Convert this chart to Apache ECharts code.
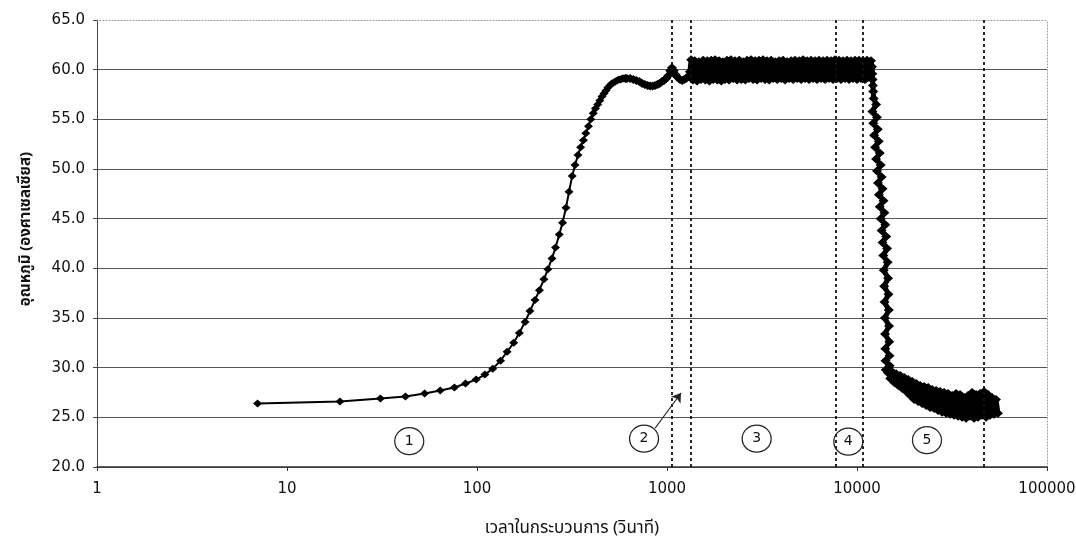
<!DOCTYPE html>
<html><head><meta charset="utf-8">
<script src="https://cdn.jsdelivr.net/npm/echarts@6/dist/echarts.min.js"></script>
<style>html,body{margin:0;padding:0;background:#fff}#c{width:1076px;height:542px}</style>
</head><body><div id="c"></div>
<script>
const xTitle = 'เวลาในกระบวนการ (วินาที)';
const yTitle = 'อุณหภูมิ (องศาเซลเซียส)';
const xTickValues = [1, 10, 100, 1000, 10000, 100000];
const yTickValues = [20, 25, 30, 35, 40, 45, 50, 55, 60, 65];

// heating phase (discrete samples)
const timeRise = [7,19,31,42,53,64,76,87,99,110,121,133,144,156,167,179,190,202,213,225,236,248,259,271,282,294,305,317,328,340,351,363,374,386,397,409,420,432,443,455,466,478,489,501,512,524,535,547,558,570,581,593,604];
const tempRise = [26.4,26.6,26.9,27.1,27.4,27.7,28.0,28.4,28.8,29.3,29.9,30.7,31.6,32.5,33.5,34.6,35.7,36.8,37.8,38.9,39.9,41.0,42.1,43.4,44.6,46.1,47.7,49.3,50.4,51.4,52.2,52.9,53.6,54.3,55.0,55.6,56.1,56.5,56.9,57.3,57.6,57.9,58.2,58.4,58.6,58.7,58.8,58.9,59.0,59.0,59.1,59.1,59.1];

// approach to set point (dense samples)
const timeSettle = [616,640,665,690,715,740,765,790,815,840,865,890,915,940,965,990,1015,1040,1062,1085,1110,1140,1170,1200,1230,1260,1290,1320];
const tempSettle = [59.1,59.1,59.0,58.9,58.8,58.6,58.5,58.4,58.35,58.35,58.4,58.5,58.6,58.8,58.9,59.1,59.4,59.9,60.2,59.9,59.5,59.2,59.0,58.9,59.0,59.1,59.3,59.8];

// holding phase (oscillating around 60)
const timeHold = [1340,1370,1400,1440,1470,1510,1550,1590,1630,1670,1710,1750,1790,1840,1880,1930,1970,2020,2070,2120,2170,2230,2280,2340,2400,2460,2520,2580,2640,2700,2770,2840,2910,2980,3050,3130,3200,3280,3360,3450,3530,3620,3710,3800,3890,3990,4080,4180,4290,4390,4500,4610,4720,4840,4960,5080,5200,5330,5460,5590,5730,5870,6020,6160,6310,6470,6630,6790,6960,7130,7300,7480,7660,7850,8040,8240,8440,8650,8860,9080,9300,9530,9760,10000,10250,10500,10750,11020,11290,11560,11850];
const tempHold = [61.0,58.95,60.9,58.85,60.8,59.0,60.95,58.95,60.9,58.85,
 60.95,59.0,61.0,58.95,60.9,58.85,60.8,59.0,60.95,58.95,
 61.0,59.1,60.9,58.95,60.95,59.0,60.8,58.95,60.95,59.1,
 61.0,59.0,60.9,58.95,60.95,59.1,61.0,59.0,60.9,58.95,
 60.95,59.1,60.8,59.0,60.9,59.1,60.95,58.95,60.8,59.1,
 60.9,59.0,60.95,59.1,60.9,59.0,61.0,59.1,60.9,59.0,
 60.95,59.1,60.9,59.0,60.95,59.1,60.9,59.0,60.95,59.1,
 60.9,59.0,61.0,59.1,60.95,59.0,60.9,59.1,60.95,59.0,
 60.9,59.1,60.95,59.0,60.95,59.1,60.9,59.0,60.95,59.2,
 60.9];

// cooling drop
const timeDrop = [12000,12040,12080,12130,12180,12240,12610,12050,12730,12180,12860,12300,13020,12450,13170,12600,13330,12740,13480,12890,13630,13040,13790,13180,13940,13330,14090,13470,14250,13620,14400,13750,14500,13830,14580,13900,14650,13960,14700,14010,14750,14050,14790,14090,14830,14130,14870,14170,14550];
const tempDrop = [60.3,59.6,59.0,58.4,57.8,57.1,56.5,55.8,55.2,54.6,54.0,53.4,52.8,52.2,51.6,51.0,50.4,49.8,49.2,48.6,48.0,47.4,46.8,46.2,45.6,45.0,44.4,43.8,43.2,42.6,42.0,41.3,40.6,39.8,39.0,38.2,37.4,36.6,35.8,35.0,34.2,33.4,32.6,31.9,31.2,30.7,30.2,29.8,29.5];

// cooled tail
const timeTail = [14600,14960,15320,15700,16080,16480,16880,17300,17720,18150,18600,19050,19520,20000,20490,20990,21500,22030,22570,23120,23690,24270,24860,25470,26090,26730,27390,28060,28740,29450,30170,30910,31660,32440,33230,34050,34880,35730,36610,37500,38420,39360,40330,41310,42330,43360,44420,45510,46630,47770,48940,50130,51360,52620,53900,55200];
const tempTail = [29.8,28.9,29.6,28.5,29.4,28.2,29.2,27.9,29.0,27.6,28.8,27.2,28.6,26.8,28.4,26.6,28.2,26.4,28.1,26.2,28.0,26.0,27.8,25.9,27.7,25.7,27.6,25.5,27.5,25.4,27.4,25.3,27.2,25.2,27.4,25.1,27.3,25.0,27.0,24.9,27.2,25.1,27.5,24.9,27.3,25.0,27.4,25.2,27.6,25.0,27.3,25.2,27.0,25.3,26.8,25.4];

const phaseBounds = [1062, 1330, 7710, 10660, 46600];
const phaseLabels = ['1', '2', '3', '4', '5'];
const phaseLabelTime = [44, 757, 2965, 9000, 23350];
const phaseLabelTemp = [22.6, 22.85, 22.85, 22.55, 22.7];
const arrowFrom = [865, 23.9];
const arrowTo = [1185, 27.45];

const sparseData = timeRise.map((t, i) => [t, tempRise[i]]);
const denseTimes = [timeRise[timeRise.length - 1]].concat(timeSettle, timeHold, timeDrop, timeTail);
const denseTemps = [tempRise[tempRise.length - 1]].concat(tempSettle, tempHold, tempDrop, tempTail);
const denseData = denseTimes.map((t, i) => [t, denseTemps[i]]);

const thaiFont = "'Noto Sans Thai','Noto Sans Thai UI','Garuda','Loma','Waree','Norasi','TlwgTypo',sans-serif";
const numFont = "'DejaVu Sans','Liberation Sans',sans-serif";

const chart = echarts.init(document.getElementById('c'), null, {renderer: 'canvas'});
chart.setOption({
  animation: false,
  backgroundColor: '#ffffff',
  grid: {left: 97, right: 29, top: 20, bottom: 75, containLabel: false, outerBoundsMode: 'none'},
  xAxis: [{
    type: 'log', logBase: 10, min: xTickValues[0], max: xTickValues[xTickValues.length - 1],
    name: xTitle, nameLocation: 'middle', nameGap: 54,
    nameTextStyle: {fontFamily: thaiFont, fontSize: 17, color: '#111'},
    axisLine: {show: true, lineStyle: {color: '#333', width: 1.5}},
    axisTick: {show: true, length: 4, lineStyle: {color: '#333'}},
    axisLabel: {margin: 15, fontFamily: numFont, fontSize: 15, color: '#111',
      formatter: v => { const m = xTickValues.find(t => Math.abs(t - v) / t < 1e-6); return m ? String(m) : ''; }},
    splitLine: {show: false}, minorTick: {show: false}
  }, {
    type: 'log', logBase: 10, min: xTickValues[0], max: xTickValues[xTickValues.length - 1], position: 'top',
    axisLine: {show: true, lineStyle: {color: '#999', width: 1, type: [1, 2]}},
    axisTick: {show: false}, axisLabel: {show: false}, splitLine: {show: false}
  }],
  yAxis: [{
    type: 'value', min: yTickValues[0], max: yTickValues[yTickValues.length - 1], interval: 5,
    axisLine: {show: true, lineStyle: {color: '#444', width: 1}},
    axisTick: {show: true, length: 4, lineStyle: {color: '#444'}},
    axisLabel: {margin: 12, fontFamily: numFont, fontSize: 15, color: '#111', formatter: v => v.toFixed(1)},
    splitLine: {show: true, showMaxLine: false, lineStyle: {color: '#555', width: 1}}
  }, {
    type: 'value', min: yTickValues[0], max: yTickValues[yTickValues.length - 1], interval: 5, position: 'right',
    axisLine: {show: true, lineStyle: {color: '#999', width: 1, type: [1, 2]}},
    axisTick: {show: false}, axisLabel: {show: false}, splitLine: {show: false}
  }],
  graphic: [{
    type: 'text', left: 19, top: 152, rotation: Math.PI / 2,
    style: {text: yTitle, font: "bold 15px " + thaiFont, fill: '#111'}
  }],
  series: [{
    type: 'line', data: sparseData, silent: true,
    symbol: 'diamond', symbolSize: [9, 8], showAllSymbol: true, itemStyle: {color: '#000'},
    lineStyle: {color: '#000', width: 2}
  }, {
    type: 'line', data: denseData, silent: true,
    symbol: 'diamond', symbolSize: [10, 9], showAllSymbol: true, itemStyle: {color: '#000'},
    lineStyle: {color: '#000', width: 5, join: 'round', cap: 'round'},
    markPoint: {
      silent: true, symbol: 'circle', symbolSize: [29, 27],
      itemStyle: {color: 'rgba(255,255,255,0)', borderColor: '#222', borderWidth: 1.2},
      label: {show: true, position: 'inside', color: '#111', fontFamily: numFont, fontSize: 14, formatter: p => p.name},
      data: phaseLabels.map((n, i) => ({name: n, coord: [phaseLabelTime[i], phaseLabelTemp[i]]}))
    },
    markLine: {
      silent: true, symbol: 'none', label: {show: false},
      lineStyle: {color: '#111', type: [3, 3], width: 1.8},
      data: phaseBounds.map(v => ({xAxis: v}))
    }
  }, {
    type: 'line', data: [], silent: true,
    markLine: {
      silent: true, symbol: ['none', 'arrow'], symbolSize: 9, label: {show: false},
      lineStyle: {color: '#222', type: 'solid', width: 1.2},
      data: [[{coord: arrowFrom}, {coord: arrowTo}]]
    }
  }]
});
</script></body></html>
